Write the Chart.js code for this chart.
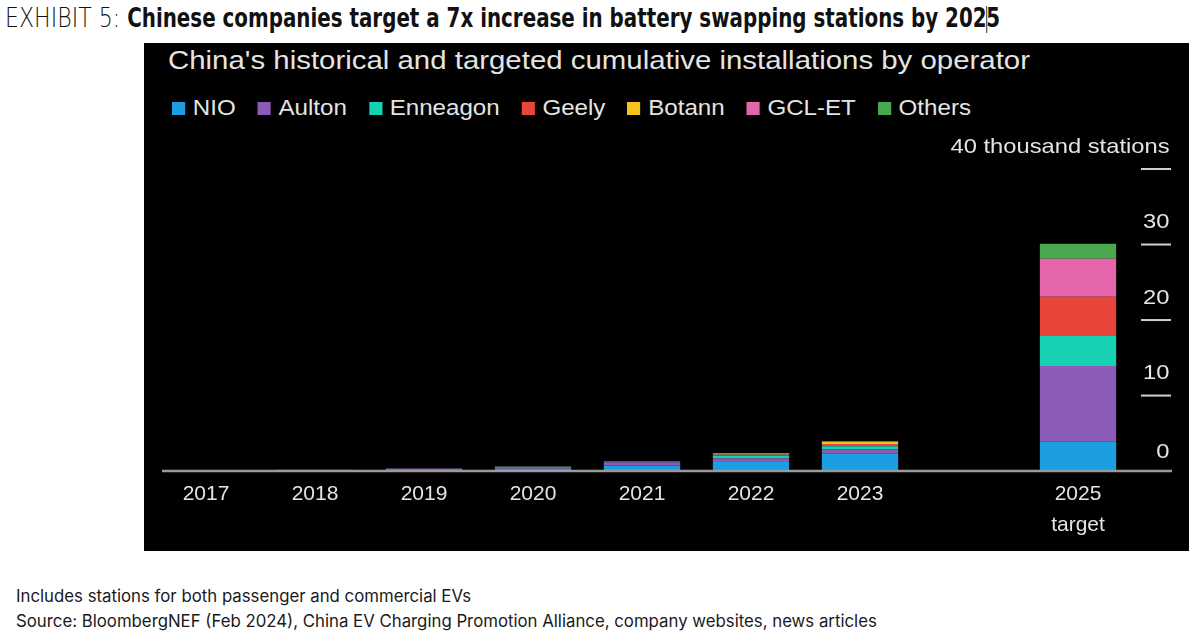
<!DOCTYPE html>
<html>
<head>
<meta charset="utf-8">
<script src="https://cdn.jsdelivr.net/npm/chart.js@4.4.1/dist/chart.umd.min.js"></script>
<style>
  html, body { margin:0; padding:0; background:#fff; width:1200px; height:637px; overflow:hidden; }
  #header { position:absolute; left:5px; top:0px; height:36px; line-height:36px; white-space:nowrap; font-family:'DejaVu Sans'; font-stretch:condensed; font-size:27px; color:#111; transform-origin:0 50%; }
  #header .lt { font-weight:200; }
  #header .bd { font-weight:700; }
  #header .cur { display:inline-block; width:0; height:27px; border-left:1.5px solid #000; vertical-align:middle; margin:0 -0.75px; }
  #panel { position:absolute; left:144px; top:43px; width:1045px; height:508px; background:#000; }
  #ctitle { position:absolute; left:24px; top:2px; font-family:'Liberation Sans', Arial, sans-serif; font-size:26px; line-height:30px; color:#e4e4e4; white-space:nowrap; transform-origin:0 50%; }
  #legend { position:absolute; left:28px; top:52px; display:flex; align-items:center; font-family:'Liberation Sans', Arial, sans-serif; font-size:22px; line-height:26px; color:#e4e4e4; white-space:nowrap; transform-origin:0 50%; }
  #legend .it { display:flex; align-items:center; margin-right:20px; }
  #legend .it:last-child { margin-right:0; }
  #legend .sw { width:12px; height:13px; margin-right:7px; }
  canvas { position:absolute; left:0; top:0; }
  #foot { position:absolute; left:16px; top:584px; font-family:Inter, 'Noto Sans', sans-serif; font-size:16.8px; line-height:25px; color:#1a1a1a; white-space:nowrap; }
</style>
</head>
<body>
<div id="header"><span class="lt">EXHIBIT 5: </span><span class="bd">Chinese companies target a 7x increase in battery swapping stations by 202<span class="cur"></span>5</span></div>
<div id="panel">
  <div id="ctitle">China's historical and targeted cumulative installations by operator</div>
  <div id="legend"></div>
  <canvas id="c" width="1045" height="508"></canvas>
</div>
<div id="foot">Includes stations for both passenger and commercial EVs<br>Source: BloombergNEF (Feb 2024), China EV Charging Promotion Alliance, company websites, news articles</div>
<script>
// Categories (thousand stations, cumulative)
const categories = ['2017','2018','2019','2020','2021','2022','2023','',['2025','target']];
const nio      = [0.01, 0.03, 0.15, 0.30, 0.73, 1.20, 2.30, 0, 3.9];
const aulton   = [0.05, 0.15, 0.20, 0.25, 0.45, 0.50, 0.55, 0, 10.0];
const enneagon = [0,    0,    0,    0.02, 0.02, 0.30, 0.45, 0, 4.0];
const geely    = [0,    0,    0,    0.05, 0.10, 0.10, 0.30, 0, 5.2];
const botann   = [0,    0,    0,    0,    0,    0.05, 0.25, 0, 0];
const gclet    = [0,    0,    0,    0,    0,    0.05, 0.05, 0, 5.0];
const others   = [0,    0,    0,    0,    0,    0.20, 0.10, 0, 2.0];
const seriesNames  = ['NIO','Aulton','Enneagon','Geely','Botann','GCL-ET','Others'];
const seriesColors = ['#1b9fe0','#8c5bb8','#16d2b2','#e8463a','#f6c31c','#e565aa','#4aa84e'];
const yTickValues = [0, 10, 20, 30, 40];
const yTickLabels = ['0', '10', '20', '30', '40 thousand stations'];

const seriesData = [nio, aulton, enneagon, geely, botann, gclet, others];

// HTML legend
const leg = document.getElementById('legend');
seriesNames.forEach((n, i) => {
  const it = document.createElement('div'); it.className = 'it';
  const sw = document.createElement('div'); sw.className = 'sw'; sw.style.background = seriesColors[i];
  const tx = document.createElement('span'); tx.textContent = n;
  it.appendChild(sw); it.appendChild(tx); leg.appendChild(it);
});

// horizontal fit of text blocks
function fitWidth(id, target) {
  const el = document.getElementById(id);
  const w = el.getBoundingClientRect().width;
  el.style.transform = 'scaleX(' + (target / w) + ')';
}
fitWidth('header', 995);
fitWidth('ctitle', 862);
fitWidth('legend', 799);

const axisPlugin = {
  id: 'axisPlugin',
  afterDatasetsDraw(chart) {
    const ctx = chart.ctx, y = chart.scales.y, a = chart.chartArea;
    ctx.save();
    // baseline
    const y0 = y.getPixelForValue(0);
    ctx.strokeStyle = '#9a9a9a';
    ctx.lineWidth = 2.5;
    ctx.beginPath(); ctx.moveTo(a.left + 10.5, y0); ctx.lineTo(a.right + 39.5, y0); ctx.stroke();
    // ticks + labels
    ctx.font = '21px "Liberation Sans", Arial, sans-serif';
    ctx.fillStyle = '#e4e4e4';
    ctx.textAlign = 'right';
    ctx.textBaseline = 'middle';
    yTickValues.forEach((v, i) => {
      const py = y.getPixelForValue(v);
      if (v !== 0) {
        ctx.strokeStyle = '#d0d0d0';
        ctx.lineWidth = 2;
        ctx.beginPath(); ctx.moveTo(a.right + 8.5, py); ctx.lineTo(a.right + 38.5, py); ctx.stroke();
      }
      ctx.save();
      ctx.translate(a.right + 37, py - (v === 0 ? 19 : 22));
      ctx.scale(1.13, 1);
      ctx.fillText(yTickLabels[i], 0, 0);
      ctx.restore();
    });
    ctx.restore();
  }
};

new Chart(document.getElementById('c'), {
  type: 'bar',
  data: {
    labels: categories,
    datasets: seriesNames.map((n, i) => ({
      label: n,
      data: seriesData[i],
      backgroundColor: seriesColors[i],
      borderWidth: 0,
      barPercentage: 0.7,
      categoryPercentage: 1.0
    }))
  },
  options: {
    responsive: false,
    animation: false,
    devicePixelRatio: 1,
    layout: { padding: { top: 126, left: 7.5, right: 56.5, bottom: 3 } },
    plugins: { legend: { display: false }, title: { display: false }, tooltip: { enabled: false } },
    scales: {
      x: {
        stacked: true,
        grid: { display: false, drawTicks: false },
        border: { display: false },
        ticks: {
          color: '#e4e4e4',
          font: { family: '"Liberation Sans", Arial, sans-serif', size: 21, lineHeight: 1.45 },
          padding: 8,
          maxRotation: 0,
          autoSkip: false
        }
      },
      y: { stacked: true, display: false, min: 0, max: 40 }
    }
  },
  plugins: [axisPlugin]
});
</script>
</body>
</html>
